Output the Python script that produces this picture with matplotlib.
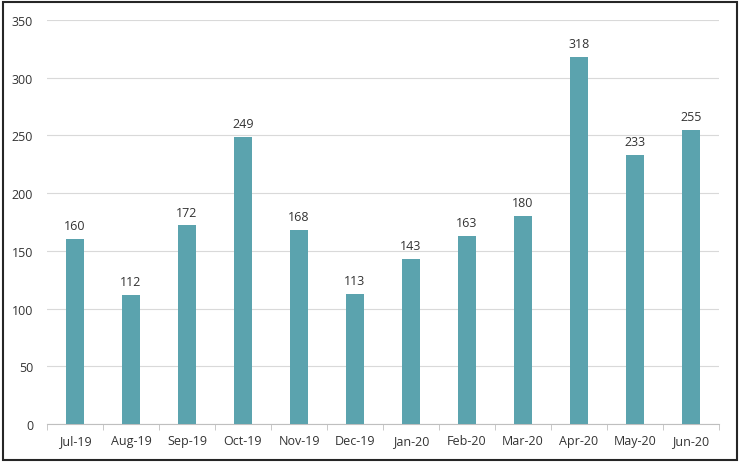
import matplotlib
matplotlib.use("Agg")
import matplotlib.pyplot as plt
from matplotlib.patches import Rectangle

months = ["Jul-19", "Aug-19", "Sep-19", "Oct-19", "Nov-19", "Dec-19",
          "Jan-20", "Feb-20", "Mar-20", "Apr-20", "May-20", "Jun-20"]
counts = [160, 112, 172, 249, 168, 113, 143, 163, 180, 318, 233, 255]
yticks = [0, 50, 100, 150, 200, 250, 300, 350]

plt.rcParams['font.family'] = ['Open Sans', 'DejaVu Sans']

fig = plt.figure(figsize=(7.41, 4.64), dpi=100)
ax = fig.add_axes([47 / 741, 39 / 464, 672 / 741, 404 / 464])

x = range(len(months))
bars = ax.bar(x, counts, width=0.32, color='#5ba3ae', zorder=3)
for xi, v in zip(x, counts):
    ax.text(xi, v + 6, str(v), ha='center', va='bottom',
            fontsize=9, color='#333333')

ax.set_xlim(-0.5, len(months) - 0.5)
ax.set_ylim(0, 350)
ax.set_yticks(yticks)
ax.set_xticks(list(x))
ax.set_xticklabels(months)
ax.set_xticks([i - 0.5 for i in range(len(months) + 1)], minor=True)
ax.grid(axis='y', color='#d9d9d9', linewidth=0.8, zorder=0)

for s in ['top', 'right', 'left']:
    ax.spines[s].set_visible(False)
ax.spines['bottom'].set_color('#bfbfbf')
ax.tick_params(axis='y', length=0, labelsize=9, labelcolor='#333333', pad=10)
ax.tick_params(axis='x', which='major', length=0, labelsize=9,
               labelcolor='#333333', pad=7)
ax.tick_params(axis='x', which='minor', length=4, color='#bfbfbf')

fig.patches.append(Rectangle((3 / 741, 3 / 464), 734 / 741, 458 / 464,
                             transform=fig.transFigure, fill=False,
                             edgecolor='#262626', linewidth=1.5))

fig.savefig('out.png', dpi=100)
